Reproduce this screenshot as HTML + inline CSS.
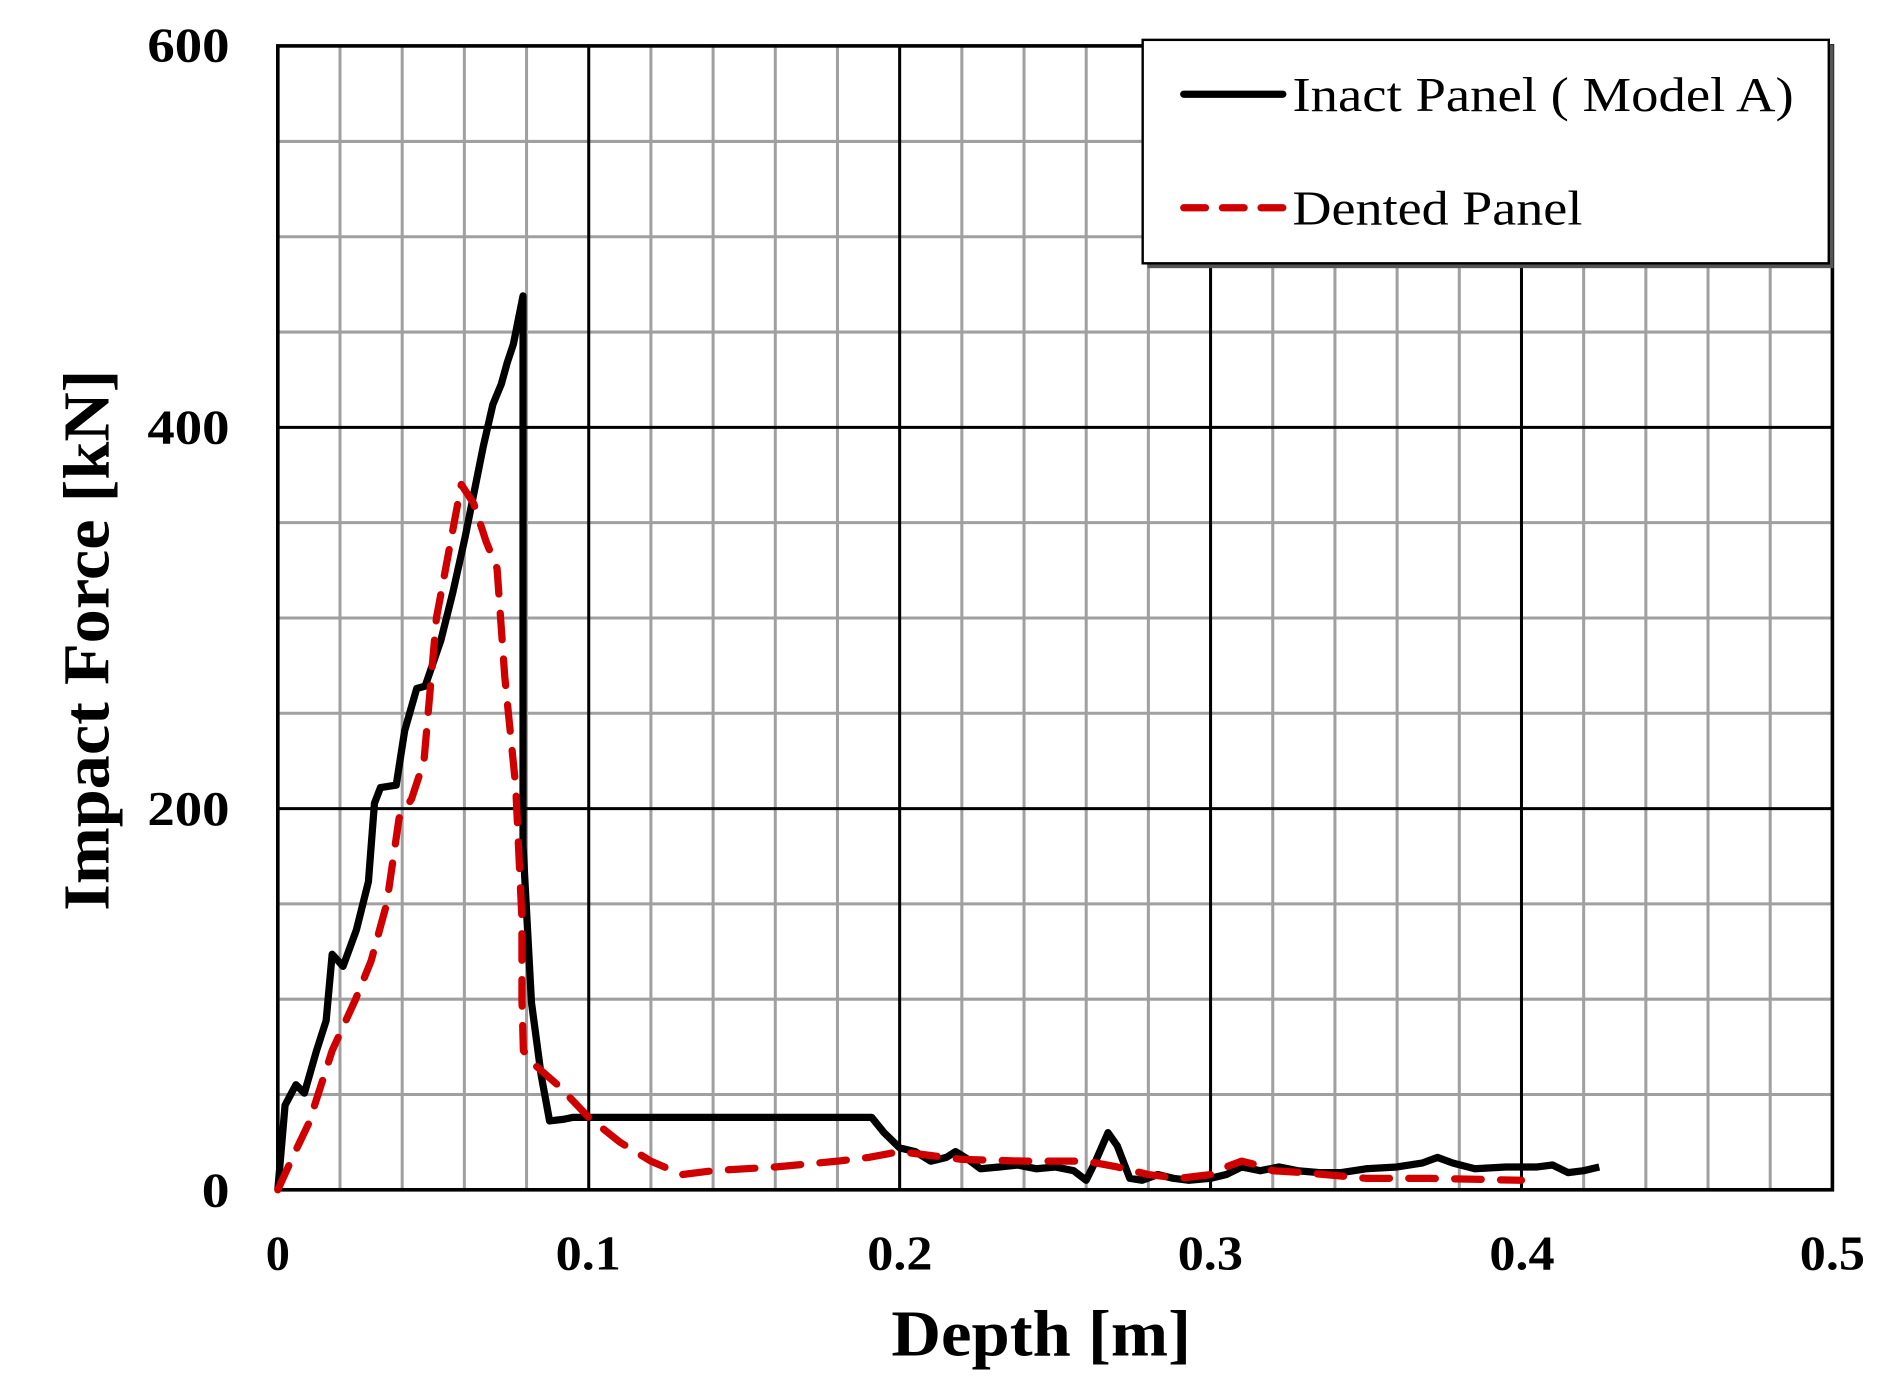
<!DOCTYPE html>
<html><head><meta charset="utf-8"><style>html,body{margin:0;padding:0;background:#fff;}svg{display:block}</style></head>
<body>
<svg id="s" width="1894" height="1392" viewBox="0 0 1568 1152.4" preserveAspectRatio="none" xmlns="http://www.w3.org/2000/svg" font-family="Liberation Serif, serif">
<rect width="1568" height="1153" fill="#fff"/>
<g id="grid"></g>
<g font-weight="bold" font-size="40" fill="#000">
<text x="190" y="51" text-anchor="end" textLength="68" lengthAdjust="spacingAndGlyphs">600</text>
<text x="190" y="367" text-anchor="end" textLength="68" lengthAdjust="spacingAndGlyphs">400</text>
<text x="190" y="683" text-anchor="end" textLength="68" lengthAdjust="spacingAndGlyphs">200</text>
<text x="190" y="999" text-anchor="end" textLength="23" lengthAdjust="spacingAndGlyphs">0</text>
<text x="230" y="1051" text-anchor="middle">0</text>
<text x="487" y="1051" text-anchor="middle" textLength="54" lengthAdjust="spacingAndGlyphs">0.1</text>
<text x="745" y="1051" text-anchor="middle" textLength="54" lengthAdjust="spacingAndGlyphs">0.2</text>
<text x="1002" y="1051" text-anchor="middle" textLength="54" lengthAdjust="spacingAndGlyphs">0.3</text>
<text x="1260" y="1051" text-anchor="middle" textLength="54" lengthAdjust="spacingAndGlyphs">0.4</text>
<text x="1517" y="1051" text-anchor="middle" textLength="54" lengthAdjust="spacingAndGlyphs">0.5</text>
<text x="862" y="1122" text-anchor="middle" font-size="54" textLength="248" lengthAdjust="spacingAndGlyphs">Depth [m]</text>
<text transform="translate(90,530) rotate(-90)" text-anchor="middle" font-size="54" textLength="448" lengthAdjust="spacingAndGlyphs">Impact Force [kN]</text>
</g>
<g id="curves"></g>
<rect x="950" y="37" width="568" height="185" fill="#555"/>
<rect x="946" y="33" width="568" height="185" fill="#fff" stroke="#000" stroke-width="2"/>
<line x1="980" y1="78" x2="1062" y2="78" stroke="#000" stroke-width="6" stroke-linecap="round"/>
<line x1="980" y1="172" x2="1062" y2="172" stroke="#d00000" stroke-width="6" stroke-dasharray="18 14" stroke-linecap="round"/>
<text x="1070" y="92" font-size="40" textLength="415" lengthAdjust="spacingAndGlyphs">Inact Panel ( Model A)</text>
<text x="1070" y="186" font-size="40" textLength="240" lengthAdjust="spacingAndGlyphs">Dented Panel</text>
</svg>
<script>
var X=function(d){return 230+2574*d}, Y=function(f){return 985-1.578*f};
var g='';
for(var i=1;i<25;i++){ if(i%5==0) continue; var x=X(i*0.02); g+='<line x1="'+x+'" y1="38" x2="'+x+'" y2="985" stroke="#a0a0a0" stroke-width="2.5"/>';}
for(var j=1;j<12;j++){ if(j%4==0) continue; var y=Y(j*50); g+='<line x1="230" y1="'+y+'" x2="1517" y2="'+y+'" stroke="#a0a0a0" stroke-width="2.5"/>';}
for(var i=1;i<5;i++){var x=X(i*0.1); g+='<line x1="'+x+'" y1="38" x2="'+x+'" y2="985" stroke="#000" stroke-width="2.5"/>';}
[200,400].forEach(function(f){var y=Y(f); g+='<line x1="230" y1="'+y+'" x2="1517" y2="'+y+'" stroke="#000" stroke-width="2.5"/>';});
g+='<rect x="230" y="38" width="1287" height="947" fill="none" stroke="#000" stroke-width="3"/>';
document.getElementById('grid').innerHTML=g;
var bp=[[230,985],[236,915],[245,898],[252,905],[262,870],[270,845],[275,790],[284,800],[295,770],[305,730],[310,665],[315,652],[328,650],[335,605],[345,570],[352,568],[365,530],[375,490],[385,445],[395,395],[400,370],[408,335],[415,318],[420,300],[425,285],[433,245],[433,700],[440,830],[448,890],[455,928]];
var blk=bp.map(function(q){return [(q[0]-230)/2574,(985-q[1])/1.578]}).concat([[0.092,37],[0.095,38],[0.12,38],[0.15,38],[0.188,38],[0.191,38],[0.195,30],[0.2,22],[0.205,20],[0.21,15],[0.215,17],[0.218,20],[0.222,16],[0.226,11],[0.232,12],[0.238,13],[0.244,11],[0.25,12],[0.256,10],[0.26,5],[0.263,15],[0.267,30],[0.27,23],[0.274,6],[0.278,5],[0.283,8],[0.288,6],[0.293,5],[0.3,6],[0.305,8],[0.31,12],[0.316,10],[0.322,12],[0.328,10],[0.335,9],[0.342,9],[0.35,11],[0.36,12],[0.368,14],[0.373,17],[0.378,14],[0.385,11],[0.395,12],[0.405,12],[0.41,13],[0.415,9],[0.42,10],[0.425,12]]);
var red=[[0,0],[0.005,18],[0.01,35],[0.0175,73],[0.025,100],[0.03,120],[0.035,150],[0.039,195],[0.043,205],[0.047,225],[0.051,300],[0.055,335],[0.059,370],[0.063,360],[0.067,340],[0.0705,326],[0.073,269],[0.0765,212],[0.0785,142],[0.0785,120],[0.0785,100],[0.079,73],[0.083,65],[0.09,55],[0.1,38],[0.11,25],[0.12,15],[0.13,8],[0.14,10],[0.16,12],[0.18,15],[0.19,17],[0.2,20],[0.21,18],[0.22,16],[0.24,15],[0.26,15],[0.27,12],[0.28,8],[0.29,6],[0.3,8],[0.305,12],[0.31,15],[0.315,13],[0.32,10],[0.33,9],[0.35,6],[0.37,6],[0.4,5]];
function p(a){return a.map(function(q,i){return (i?'L':'M')+X(q[0]).toFixed(1)+' '+Y(q[1]).toFixed(1)}).join(' ')}
document.getElementById('curves').innerHTML='<path d="'+p(blk)+'" fill="none" stroke="#000" stroke-width="6" stroke-linejoin="round"/>'+
'<path d="'+p(red)+'" fill="none" stroke="#d00000" stroke-width="6" stroke-dasharray="22 16" stroke-linejoin="round" stroke-linecap="round"/>';
</script>
</body></html>
